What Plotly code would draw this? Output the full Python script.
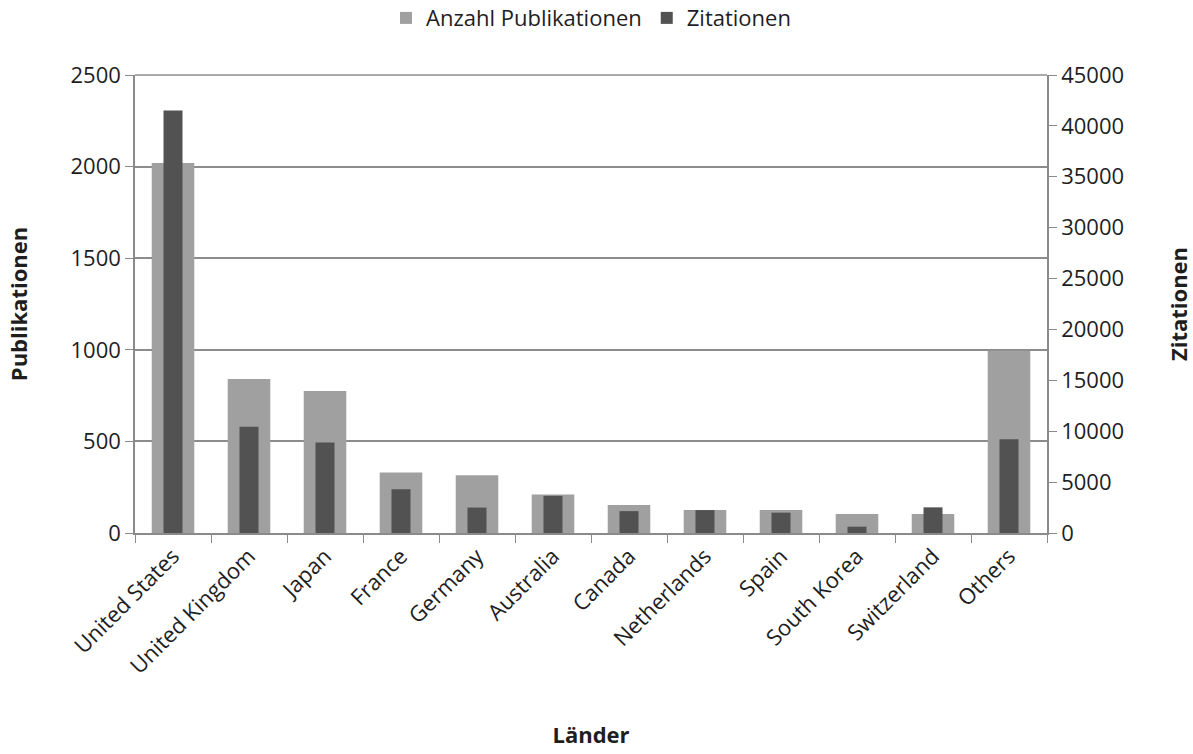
import plotly.graph_objects as go

# Publications and citations per country
countries = ["United States", "United Kingdom", "Japan", "France", "Germany",
             "Australia", "Canada", "Netherlands", "Spain", "South Korea",
             "Switzerland", "Others"]
publikationen = [2020, 840, 775, 330, 315, 210, 153, 126, 126, 104, 104, 995]
zitationen = [41500, 10450, 8900, 4300, 2500, 3650, 2150, 2250, 2000, 620, 2520, 9200]

left_ticks = [0, 500, 1000, 1500, 2000, 2500]
right_ticks = [0, 5000, 10000, 15000, 20000, 25000, 30000, 35000, 40000, 45000]

FONT = "Open Sans, Liberation Sans, sans-serif"
TEXT = "#1e1e1e"
AXIS = "#8a8a8a"
GRID = "#8c8c8c"
FS = 22

fig = go.Figure()
fig.add_trace(go.Bar(
    x=countries, y=publikationen, name="Anzahl Publikationen",
    width=0.56, marker=dict(color="#a0a0a0", line=dict(width=0)),
    yaxis="y",
))
fig.add_trace(go.Bar(
    x=countries, y=zitationen, name="Zitationen",
    width=0.25, marker=dict(color="#525252", line=dict(width=0)),
    yaxis="y2",
))

# top gridline along the upper edge of the plot area
fig.add_shape(type="line", xref="paper", yref="paper", x0=0, x1=1, y0=1, y1=1,
              line=dict(color=GRID, width=1.5), layer="below")

fig.update_layout(
    width=1193, height=754,
    margin=dict(l=135, r=146, t=75, b=221),
    paper_bgcolor="white", plot_bgcolor="white",
    barmode="overlay",
    font=dict(family=FONT, size=FS, color=TEXT),
    showlegend=True,
    legend=dict(orientation="h", x=0.5, xanchor="center",
                yref="container", y=0.976, yanchor="middle",
                font=dict(size=FS, color=TEXT),
                traceorder="normal", bgcolor="rgba(0,0,0,0)"),
    xaxis=dict(
        tickangle=-45, tickson="boundaries", ticks="outside", ticklen=8,
        tickcolor=AXIS, showline=True, linecolor=AXIS, linewidth=1.5,
        showgrid=False, tickfont=dict(size=FS), automargin=False,
        title=dict(text="<b>Länder</b>", font=dict(size=FS), standoff=49),
    ),
    yaxis=dict(
        range=[0, 2500], tickvals=left_ticks, ticks="outside", ticklen=8,
        tickcolor=AXIS, showline=True, linecolor=AXIS, linewidth=1.5,
        showgrid=True, gridcolor=GRID, gridwidth=1.5, zeroline=False,
        tickfont=dict(size=FS), automargin=False,
        title=dict(text="<b>Publikationen</b>", font=dict(size=FS), standoff=37),
    ),
    yaxis2=dict(
        range=[0, 45000], tickvals=right_ticks,
        ticktext=[str(v) for v in right_ticks],
        overlaying="y", side="right",
        ticks="outside", ticklen=8, tickcolor=AXIS, showline=True,
        linecolor=AXIS, linewidth=1.5, showgrid=False, zeroline=False,
        tickfont=dict(size=FS), automargin=False,
        title=dict(text="<b>Zitationen</b>", font=dict(size=FS), standoff=50),
    ),
)

fig.write_html("out.html")
